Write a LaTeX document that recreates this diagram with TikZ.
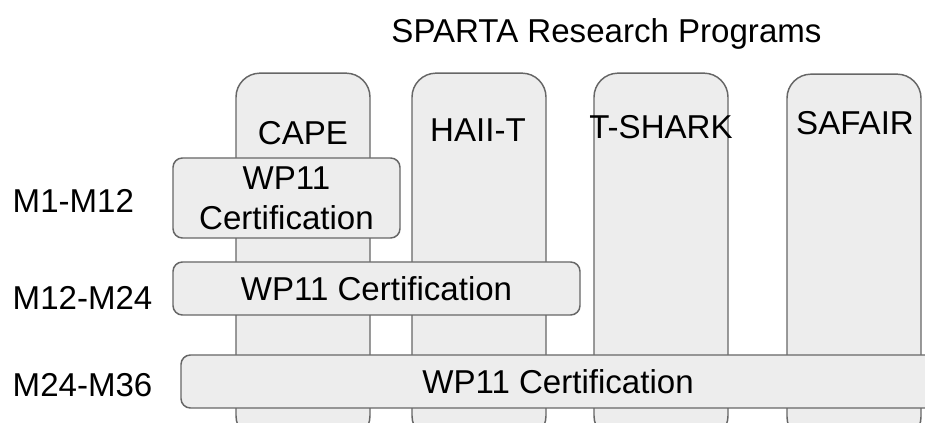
\documentclass[tikz,border=0pt]{standalone}
\usepackage{fontspec}
\setmainfont{Liberation Sans}
\begin{document}
\begin{tikzpicture}[x=0.75pt,y=-0.75pt,
    every node/.style={font=\fontsize{24.8}{30}\selectfont},
    prog/.style={draw=black!60,fill=black!7,line width=1.1pt,rounded corners=18pt,
      inner sep=0pt,minimum width=100.5pt,minimum height=275pt},
    wp/.style={draw=black!60,fill=black!7,line width=1.1pt,rounded corners=7pt,
      inner sep=0pt,align=center,minimum height=39.75pt}]
      \useasboundingbox (0,0) rectangle (925,423);
      \clip (0,0) rectangle (925,423);
      % programme columns
      \draw
        (303,256.5) node[prog] (cape){}
        (479,256.5) node[prog] (haii){}
        (661,256.5) node[prog] (tshark){}
        (854,257.5) node[prog] (safair){};
      \draw
        (303,145) node[anchor=base] (capet){CAPE}
        (478,142) node[anchor=base] (haiit){HAII-T}
        (661,139) node[anchor=base] (tsharkt){T-SHARK}
        (855,135) node[anchor=base] (safairt){SAFAIR};
      % certification phases
      \draw
        (286.5,198) node[wp,minimum width=170.25pt,minimum height=60pt] (wp1){WP11\\Certification}
        (376.5,288.5) node[wp,minimum width=305.25pt] (wp2){WP11 Certification}
        (558,381.5) node[wp,minimum width=565.5pt] (wp3){WP11 Certification};
      \draw
        (8,213) node[anchor=base west] (m1){M1-M12}
        (8,310) node[anchor=base west] (m2){M12-M24}
        (8,397) node[anchor=base west] (m3){M24-M36};
      \draw (606.5,43) node[anchor=base] (title){SPARTA Research Programs};
    \end{tikzpicture}
\end{document}
